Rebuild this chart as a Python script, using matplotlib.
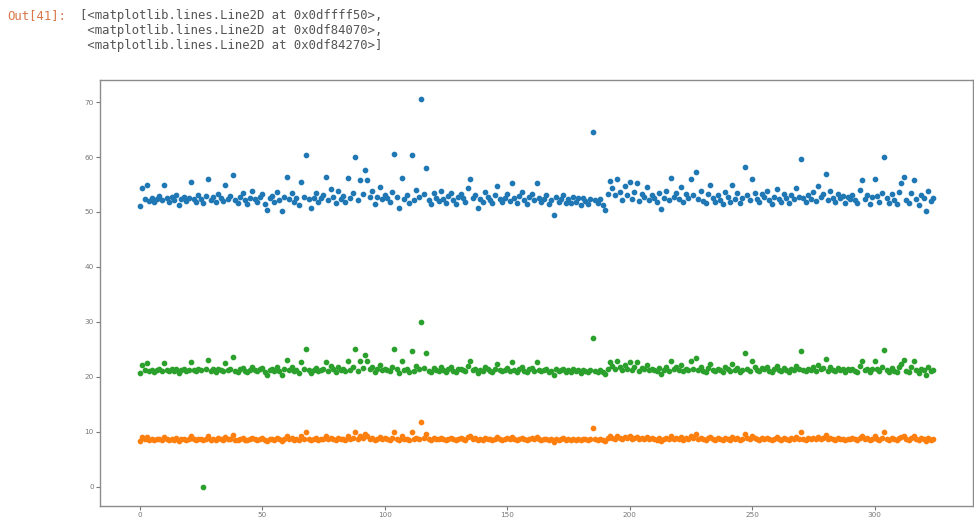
import matplotlib.pyplot as plt

# значения трёх столбцов (индекс 0..324)
blue = [
    51.0, 54.4, 52.3, 55.0, 52.0, 52.6, 51.8, 52.4, 52.9, 52.1, 55.0, 52.5, 51.9, 52.7, 52.2, 53.1, 51.3, 52.4, 52.8, 52.0, 52.6, 55.5, 52.3, 51.9, 53.0,
    52.4, 51.6, 52.9, 56.0, 52.2, 52.7, 51.8, 53.2, 52.5, 52.0, 55.0, 52.4, 52.9, 56.7, 52.1, 51.7, 52.8, 53.4, 52.2, 51.5, 52.6, 53.8, 52.3, 51.9, 52.7,
    53.3, 51.4, 50.4, 52.5, 52.9, 51.8, 53.6, 52.2, 50.2, 52.7, 56.4, 52.4, 53.5, 51.9, 52.6, 51.2, 55.5, 52.8, 60.4, 52.3, 50.7, 52.6, 53.4, 51.9, 52.5,
    53.0, 56.4, 52.1, 54.2, 52.7, 51.6, 53.8, 52.4, 52.9, 51.8, 56.2, 52.6, 53.5, 60.0, 52.2, 55.8, 53.3, 57.6, 55.8, 52.7, 53.9, 51.4, 52.8, 54.6, 52.3,
    53.1, 52.5, 51.9, 53.6, 60.5, 52.8, 50.7, 56.2, 52.4, 53.0, 51.6, 60.4, 52.2, 54.0, 52.7, 70.5, 53.3, 58.0, 52.1, 51.5, 53.4, 52.6, 52.0, 53.8, 52.3,
    51.7, 52.9, 53.5, 52.2, 51.4, 52.7, 53.2, 52.5, 51.9, 54.3, 56.0, 52.6, 53.1, 50.7, 52.4, 51.8, 53.6, 52.8, 52.1, 51.6, 53.0, 54.7, 52.3, 51.9, 52.6,
    53.2, 52.0, 55.3, 52.5, 51.6, 52.9, 53.7, 52.2, 51.4, 52.8, 53.3, 52.1, 55.3, 52.6, 51.8, 52.4, 53.0, 51.5, 52.2, 49.5, 52.7, 51.9, 52.4, 53.1, 51.7,
    52.3, 51.6, 52.8, 51.9, 52.5, 51.2, 52.6, 52.0, 51.5, 52.3, 64.5, 52.1, 51.7, 52.4, 51.3, 50.4, 53.2, 55.6, 54.3, 53.0, 56.0, 53.6, 52.2, 54.8, 53.1,
    55.5, 52.4, 53.7, 55.3, 52.0, 53.3, 52.7, 54.5, 52.2, 53.0, 52.5, 51.8, 53.4, 50.5, 52.6, 53.9, 52.1, 56.2, 52.8, 53.5, 52.3, 54.6, 51.9, 53.2, 52.6,
    56.0, 53.1, 57.3, 52.4, 53.8, 52.0, 51.6, 53.3, 54.9, 52.5, 51.8, 53.0, 52.2, 51.5, 53.6, 52.8, 51.9, 54.9, 52.3, 53.4, 51.7, 52.6, 58.2, 53.0, 52.2,
    56.0, 53.5, 52.4, 51.8, 53.2, 52.7, 53.9, 52.1, 51.5, 52.8, 54.2, 52.4, 51.9, 53.3, 52.6, 51.7, 53.0, 52.3, 54.4, 52.8, 59.6, 52.5, 51.8, 53.1, 52.4,
    53.6, 52.0, 54.8, 52.7, 53.3, 56.9, 52.2, 53.8, 52.6, 51.9, 53.2, 52.5, 52.9, 51.7, 52.8, 52.3, 53.0, 52.1, 51.6, 54.0, 55.8, 52.4, 53.1, 51.5, 52.7,
    56.0, 52.9, 51.8, 53.4, 60.0, 52.5, 51.6, 53.2, 52.2, 51.4, 53.7, 55.2, 56.4, 52.1, 51.7, 53.5, 55.8, 52.3, 51.2, 53.0, 52.6, 50.2, 53.8, 52.0, 52.5,
]

orange = [
    8.3, 9.0, 8.6, 9.1, 8.5, 8.7, 8.4, 8.6, 8.7, 8.5, 9.1, 8.6, 8.5, 8.7, 8.5, 8.8, 8.3, 8.6, 8.7, 8.5, 8.6, 9.2, 8.6, 8.4, 8.7,
    8.6, 8.4, 8.7, 9.3, 8.5, 8.7, 8.4, 8.8, 8.6, 8.5, 9.1, 8.6, 8.7, 9.4, 8.5, 8.4, 8.7, 8.8, 8.5, 8.4, 8.6, 8.9, 8.6, 8.5, 8.7,
    8.8, 8.4, 8.3, 8.6, 8.7, 8.5, 8.8, 8.6, 8.3, 8.7, 9.3, 8.6, 8.8, 8.5, 8.7, 8.4, 9.2, 8.7, 9.9, 8.6, 8.4, 8.7, 8.8, 8.5, 8.6,
    8.7, 9.3, 8.6, 8.9, 8.7, 8.5, 8.9, 8.6, 8.7, 8.5, 9.3, 8.6, 8.8, 9.9, 8.6, 9.2, 8.8, 9.5, 9.2, 8.7, 8.9, 8.5, 8.7, 9.0, 8.6,
    8.8, 8.6, 8.5, 8.8, 10.0, 8.7, 8.4, 9.3, 8.6, 8.7, 8.5, 9.9, 8.6, 8.9, 8.7, 11.7, 8.8, 9.6, 8.6, 8.5, 8.8, 8.7, 8.6, 8.9, 8.6,
    8.5, 8.7, 8.8, 8.6, 8.5, 8.7, 8.8, 8.6, 8.5, 9.0, 9.3, 8.7, 8.8, 8.4, 8.6, 8.5, 8.8, 8.7, 8.6, 8.5, 8.7, 9.0, 8.6, 8.5, 8.7,
    8.8, 8.6, 9.1, 8.6, 8.5, 8.7, 8.9, 8.6, 8.4, 8.7, 8.8, 8.6, 9.1, 8.7, 8.5, 8.6, 8.7, 8.5, 8.6, 8.2, 8.7, 8.5, 8.6, 8.8, 8.5,
    8.6, 8.5, 8.7, 8.5, 8.6, 8.4, 8.7, 8.6, 8.5, 8.6, 10.7, 8.6, 8.5, 8.6, 8.4, 8.3, 8.8, 9.2, 8.9, 8.7, 9.3, 8.9, 8.6, 9.0, 8.8,
    9.2, 8.6, 8.9, 9.1, 8.6, 8.8, 8.7, 9.0, 8.6, 8.8, 8.7, 8.5, 8.8, 8.3, 8.7, 8.9, 8.6, 9.3, 8.7, 8.9, 8.6, 9.0, 8.5, 8.8, 8.7,
    9.3, 8.8, 9.5, 8.6, 8.9, 8.6, 8.5, 8.8, 9.1, 8.7, 8.5, 8.8, 8.6, 8.5, 8.9, 8.7, 8.5, 9.1, 8.6, 8.8, 8.5, 8.7, 9.6, 8.8, 8.6,
    9.3, 8.8, 8.6, 8.5, 8.8, 8.7, 8.9, 8.6, 8.5, 8.7, 9.0, 8.6, 8.5, 8.8, 8.7, 8.5, 8.8, 8.6, 9.0, 8.7, 9.9, 8.7, 8.5, 8.8, 8.6,
    8.9, 8.6, 9.1, 8.7, 8.8, 9.4, 8.6, 8.9, 8.7, 8.5, 8.8, 8.7, 8.7, 8.5, 8.7, 8.6, 8.8, 8.6, 8.5, 8.9, 9.2, 8.6, 8.8, 8.4, 8.7,
    9.3, 8.7, 8.5, 8.8, 10.0, 8.7, 8.5, 8.8, 8.6, 8.4, 8.9, 9.1, 9.3, 8.6, 8.5, 8.8, 9.2, 8.6, 8.4, 8.8, 8.7, 8.3, 8.9, 8.5, 8.6,
]

green = [
    20.6, 22.2, 21.2, 22.5, 21.0, 21.3, 20.9, 21.2, 21.4, 21.1, 22.5, 21.3, 21.0, 21.4, 21.1, 21.5, 20.7, 21.2, 21.4, 21.0, 21.3, 22.7, 21.2, 21.0, 21.5,
    21.2, 0.0, 21.4, 23.0, 21.1, 21.4, 20.9, 21.5, 21.3, 21.0, 22.5, 21.2, 21.4, 23.6, 21.1, 20.9, 21.4, 21.6, 21.1, 20.8, 21.3, 21.8, 21.2, 21.0, 21.4,
    21.6, 20.8, 20.4, 21.3, 21.4, 21.0, 21.7, 21.1, 20.4, 21.4, 23.0, 21.2, 21.7, 21.0, 21.3, 20.7, 22.7, 21.4, 25.0, 21.2, 20.6, 21.3, 21.6, 21.0, 21.3,
    21.5, 22.7, 21.1, 21.9, 21.4, 20.9, 21.8, 21.2, 21.4, 21.0, 22.9, 21.3, 21.7, 25.0, 21.1, 22.8, 21.6, 24.0, 22.8, 21.4, 21.8, 20.8, 21.4, 22.1, 21.2,
    21.5, 21.3, 21.0, 21.7, 25.0, 21.4, 20.6, 22.9, 21.2, 21.5, 20.9, 24.7, 21.1, 21.9, 21.4, 30.0, 21.6, 24.3, 21.1, 20.9, 21.6, 21.3, 21.1, 21.8, 21.2,
    20.9, 21.4, 21.7, 21.1, 20.8, 21.4, 21.5, 21.3, 21.0, 22.0, 22.9, 21.3, 21.5, 20.6, 21.2, 21.0, 21.7, 21.4, 21.1, 20.9, 21.5, 22.3, 21.2, 21.0, 21.3,
    21.6, 21.1, 22.6, 21.3, 20.9, 21.4, 21.8, 21.1, 20.8, 21.4, 21.6, 21.1, 22.6, 21.3, 21.0, 21.2, 21.5, 20.9, 21.1, 20.3, 21.4, 21.0, 21.2, 21.5, 20.9,
    21.2, 20.9, 21.4, 21.0, 21.3, 20.7, 21.3, 21.1, 20.9, 21.2, 27.0, 21.1, 20.9, 21.2, 20.8, 20.5, 21.5, 22.7, 22.0, 21.5, 22.9, 21.7, 21.2, 22.2, 21.5,
    22.7, 21.2, 21.8, 22.6, 21.1, 21.6, 21.4, 22.1, 21.2, 21.5, 21.3, 21.0, 21.6, 20.5, 21.3, 21.8, 21.1, 22.9, 21.4, 21.7, 21.2, 22.1, 21.0, 21.5, 21.3,
    22.9, 21.5, 23.5, 21.2, 21.8, 21.1, 20.9, 21.6, 22.4, 21.3, 21.0, 21.5, 21.2, 20.9, 21.7, 21.4, 21.0, 22.4, 21.2, 21.6, 20.9, 21.3, 24.4, 21.5, 21.1,
    22.9, 21.7, 21.2, 21.0, 21.6, 21.4, 21.8, 21.1, 20.9, 21.4, 22.0, 21.2, 21.0, 21.6, 21.3, 20.9, 21.5, 21.2, 22.0, 21.4, 24.7, 21.3, 21.0, 21.5, 21.2,
    21.7, 21.1, 22.2, 21.4, 21.6, 23.3, 21.1, 21.8, 21.3, 21.0, 21.6, 21.3, 21.4, 20.9, 21.4, 21.2, 21.5, 21.1, 20.9, 21.9, 22.8, 21.2, 21.5, 20.8, 21.4,
    22.9, 21.4, 21.0, 21.7, 24.9, 21.3, 20.9, 21.6, 21.1, 20.8, 21.8, 22.4, 23.0, 21.1, 20.9, 21.7, 22.8, 21.2, 20.7, 21.5, 21.3, 20.4, 21.8, 21.0, 21.2,
]

out_lines = [
    "[<matplotlib.lines.Line2D at 0x0dffff50>,",
    " <matplotlib.lines.Line2D at 0x0df84070>,",
    " <matplotlib.lines.Line2D at 0x0df84270>]",
]

x = list(range(len(blue)))

fig = plt.figure(figsize=(9.74, 5.21), dpi=100)
fig.patch.set_facecolor('white')

# шапка вывода Jupyter
fig.text(7 / 974, 1 - 16 / 521, "Out[41]:", family='DejaVu Sans Mono', fontsize=8.8,
         color='#d9764a', va='center', ha='left')
for i, line in enumerate(out_lines):
    fig.text(80 / 974, 1 - (16 + 14.5 * i) / 521, line, family='DejaVu Sans Mono',
             fontsize=8.8, color='#555555', va='center', ha='left')

ax = fig.add_axes([100 / 974, 15 / 521, 873 / 974, 426 / 521])
ax.plot(x, blue, 'o', color='#1f77b4', markersize=3.1)
ax.plot(x, orange, 'o', color='#ff7f0e', markersize=3.1)
ax.plot(x, green, 'o', color='#2ca02c', markersize=3.1)

ax.set_yticks([0, 10, 20, 30, 40, 50, 60, 70])
ax.set_xticks([0, 50, 100, 150, 200, 250, 300])
ax.tick_params(labelsize=5.2, colors='#777777', length=3, width=0.8, pad=1.5)
for s in ax.spines.values():
    s.set_color('#8c8c8c')
    s.set_linewidth(1.0)

fig.savefig('out.png', dpi=100)
